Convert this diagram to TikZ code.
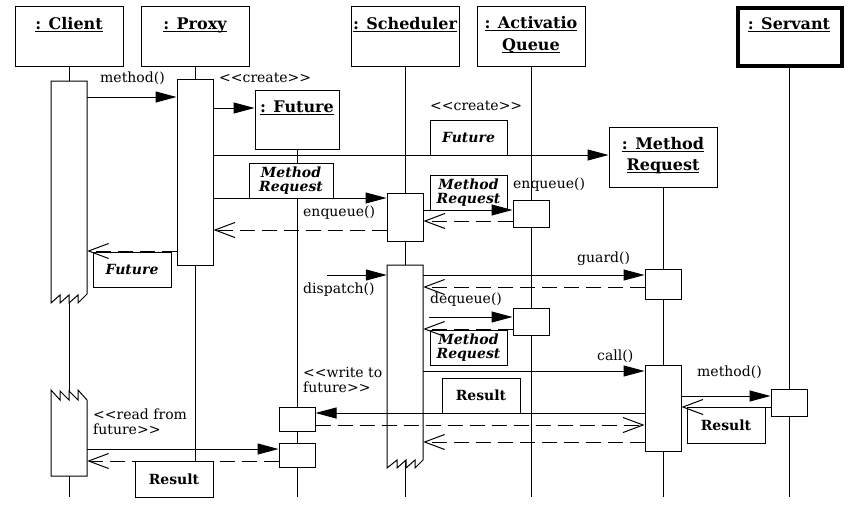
\documentclass[tikz,border=0pt]{standalone}
\usepackage{fontspec}
\setmainfont{DejaVu Serif}
\usetikzlibrary{arrows.meta,calc}
\newcommand\hdul[1]{\vtop{\hbox{\raisebox{0pt}[\height][0pt]{#1}}\kern2pt\hrule height 1.3pt}}
\begin{document}
\begin{tikzpicture}[x=1pt,y=-1pt,
  every node/.style={inner sep=0pt},
  objbox/.style={draw, line width=1pt, fill=white, minimum width=108pt, minimum height=60pt},
  htext/.style={anchor=base, font=\bfseries\fontsize{16}{18}\selectfont},
  life/.style={line width=1pt},
  actbar/.style={draw, line width=1pt, fill=white, minimum width=36pt},
  ghost/.style={draw=none, fill=none, minimum width=36pt},
  lbl/.style={anchor=base west, font=\fontsize{14}{16}\selectfont},
  lbox/.style={draw, line width=1pt, fill=white, align=center, font=\bfseries\itshape\fontsize{14}{14}\selectfont},
  rbox/.style={draw, line width=1pt, fill=white, align=center, font=\bfseries\fontsize{14}{14}\selectfont},
  callmsg/.style={line width=1pt, -{Triangle[length=21pt,width=11pt]}},
  retmsg/.style={line width=1pt, dash pattern=on 15pt off 7pt, -{Straight Barb[length=20pt,width=15pt,line width=1pt]}},
]
\useasboundingbox (0,0) rectangle (856,517);
\fill[white] (0,0) rectangle (856,517);

% object heads
\node[objbox] (client) at (69,36) {};
\node[objbox] (proxy) at (195,36) {};
\node[objbox] (sched) at (405,36) {};
\node[objbox] (aq) at (531,36) {};
\node[objbox, line width=4pt, minimum width=104pt, minimum height=58pt] (servant) at (789.5,37) {};
\node[objbox, minimum width=84pt, minimum height=59pt] (future) at (297,119.5) {};
\node[objbox] (mreq) at (663,157) {};

% lifelines
\coordinate (bot) at (0,497);
\foreach \o in {client,proxy,sched,aq,servant,future,mreq}
  \draw[life] (\o.south) -- (\o.south |- bot);

% label boxes on messages
\node[lbox, minimum width=84pt, minimum height=35pt] (lb1) at (291,180.5) {Method\\Request};
\node[lbox, minimum width=77pt, minimum height=35pt] (lb2) at (468.5,137.5) {Future};
\node[lbox, minimum width=77pt, minimum height=35pt] (lb3) at (468.5,192.5) {Method\\Request};
\node[lbox, minimum width=78pt, minimum height=35pt] (lb4) at (132,269.5) {Future};
\node[lbox, minimum width=77pt, minimum height=35pt] (lb5) at (468.5,347.5) {Method\\Request};
\node[rbox, minimum width=78pt, minimum height=35pt] (lb6) at (481,395.5) {Result};
\node[rbox, minimum width=78pt, minimum height=36pt] (lb7) at (726,425) {Result};
\node[rbox, minimum width=78pt, minimum height=36pt] (lb8) at (174,479) {Result};

% activation bars
\node[ghost, minimum height=218pt] (cb1) at (69,190) {};
\filldraw[line width=1pt, fill=white] (51,81) -- (87,81) -- (87,294) -- (78,303) -- (78,295) -- (69,303) -- (69,295) -- (60,303) -- (60,295) -- (51,303) -- cycle;
\node[ghost, minimum height=86pt] (cb2) at (69,433) {};
\filldraw[line width=1pt, fill=white] (51,390) -- (60,400) -- (60,391) -- (69,400) -- (69,391) -- (78,400) -- (78,390) -- (87,400) -- (87,476) -- (51,476) -- cycle;
\node[actbar, minimum height=186pt] (pb) at (195,172) {};
\node[actbar, minimum height=48pt] (sb1) at (405,217) {};
\node[ghost, minimum height=195pt] (sb2) at (405,362.5) {};
\filldraw[line width=1pt, fill=white] (387,265) -- (423,265) -- (423,460) -- (415,468) -- (415,460) -- (406,468) -- (406,460) -- (397,468) -- (397,460) -- (387,468) -- cycle;
\node[actbar, minimum height=27pt] (qb1) at (531,213.5) {};
\node[actbar, minimum height=27pt] (qb2) at (531,321.5) {};
\node[actbar, minimum height=30pt] (mb1) at (663,284) {};
\node[actbar, minimum height=86pt] (mb2) at (663,408) {};
\node[actbar, minimum height=27pt] (svb) at (789,402.5) {};
\node[actbar, minimum height=24pt] (fb1) at (297,419) {};
\node[actbar, minimum height=24pt] (fb2) at (297,455) {};

% message times
\coordinate (t1) at (0,97);
\coordinate (t2) at (0,108);
\coordinate (t3) at (0,155);
\coordinate (t4) at (0,198);
\coordinate (t5) at (0,230);
\coordinate (t6) at (0,210);
\coordinate (t7) at (0,221);
\coordinate (t8) at (0,251);
\coordinate (t9) at (0,275);
\coordinate (t11) at (0,287);
\coordinate (t12) at (0,317);
\coordinate (t13) at (0,329);
\coordinate (t14) at (0,371);
\coordinate (t15) at (0,413);
\coordinate (t16) at (0,425);
\coordinate (t17) at (0,442);
\coordinate (t18) at (0,396);
\coordinate (t19) at (0,407);
\coordinate (t20) at (0,449);
\coordinate (t21) at (0,461);
\coordinate (dstart) at (327,275);
\coordinate (dqstart) at (429,317);

% messages
\draw[callmsg] (cb1.east |- t1) -- (pb.west |- t1);
\draw[callmsg] (pb.east |- t2) -- (future.west |- t2);
\draw[callmsg] (pb.east |- t3) -- (mreq.west |- t3);
\draw[callmsg] (pb.east |- t4) -- (sb1.west |- t4);
\draw[retmsg] (sb1.west |- t5) -- (pb.east |- t5);
\draw[callmsg] (sb1.east |- t6) -- (qb1.west |- t6);
\draw[retmsg] (qb1.west |- t7) -- (sb1.east |- t7);
\draw[retmsg] (pb.west |- t8) -- (cb1.east |- t8);
\draw[callmsg] (dstart) -- (sb2.west |- dstart);
\draw[callmsg] (sb2.east |- t9) -- (mb1.west |- t9);
\draw[retmsg] (mb1.west |- t11) -- (sb2.east |- t11);
\draw[callmsg] (dqstart) -- (qb2.west |- dqstart);
\draw[retmsg] (qb2.west |- t13) -- (sb2.east |- t13);
\draw[callmsg] (sb2.east |- t14) -- (mb2.west |- t14);
\draw[callmsg] (mb2.west |- t15) -- (fb1.east |- t15);
\draw[retmsg] (fb1.east |- t16) -- (mb2.west |- t16);
\draw[retmsg] (mb2.west |- t17) -- (sb2.east |- t17);
\draw[callmsg] (mb2.east |- t18) -- (svb.west |- t18);
\draw[retmsg] (svb.west |- t19) -- (mb2.east |- t19);
\draw[callmsg] (cb2.east |- t20) -- (fb2.west |- t20);
\draw[retmsg] (fb2.west |- t21) -- (cb2.east |- t21);

% head texts
\node[htext] (tClient) at (69,29) {\hdul{: Client}};
\node[htext] (tProxy) at (195,29) {\hdul{: Proxy}};
\node[htext] (tSched) at (405,29) {\hdul{: Scheduler}};
\node[htext] (tAq1) at (531,28) {\hdul{: Activatio}};
\node[htext] (tAq2) at (531,50) {\hdul{Queue}};
\node[htext] (tServ) at (789,29) {\hdul{: Servant}};
\node[htext] (tFut) at (297,112) {\hdul{: Future}};
\node[htext] (tMr1) at (663,149) {\hdul{: Method}};
\node[htext] (tMr2) at (663,170) {\hdul{Request}};

% message labels
\node[lbl] (l1) at (100,82) {method()};
\node[lbl] (l2) at (219,82) {<{}<create>{}>};
\node[lbl] (l3) at (430,110) {<{}<create>{}>};
\node[lbl] (l4) at (303,216) {enqueue()};
\node[lbl] (l5) at (513,188) {enqueue()};
\node[lbl] (l6) at (303,293) {dispatch()};
\node[lbl] (l7) at (577,262) {guard()};
\node[lbl] (l8) at (430,303) {dequeue()};
\node[lbl] (l9) at (597,360) {call()};
\node[lbl] (l10) at (697,376) {method()};
\node[lbl] (l11) at (303,377) {<{}<write to};
\node[lbl] (l12) at (303,392) {future>{}>};
\node[lbl] (l13) at (93,419) {<{}<read from};
\node[lbl] (l14) at (93,434) {future>{}>};
\end{tikzpicture}
\end{document}
